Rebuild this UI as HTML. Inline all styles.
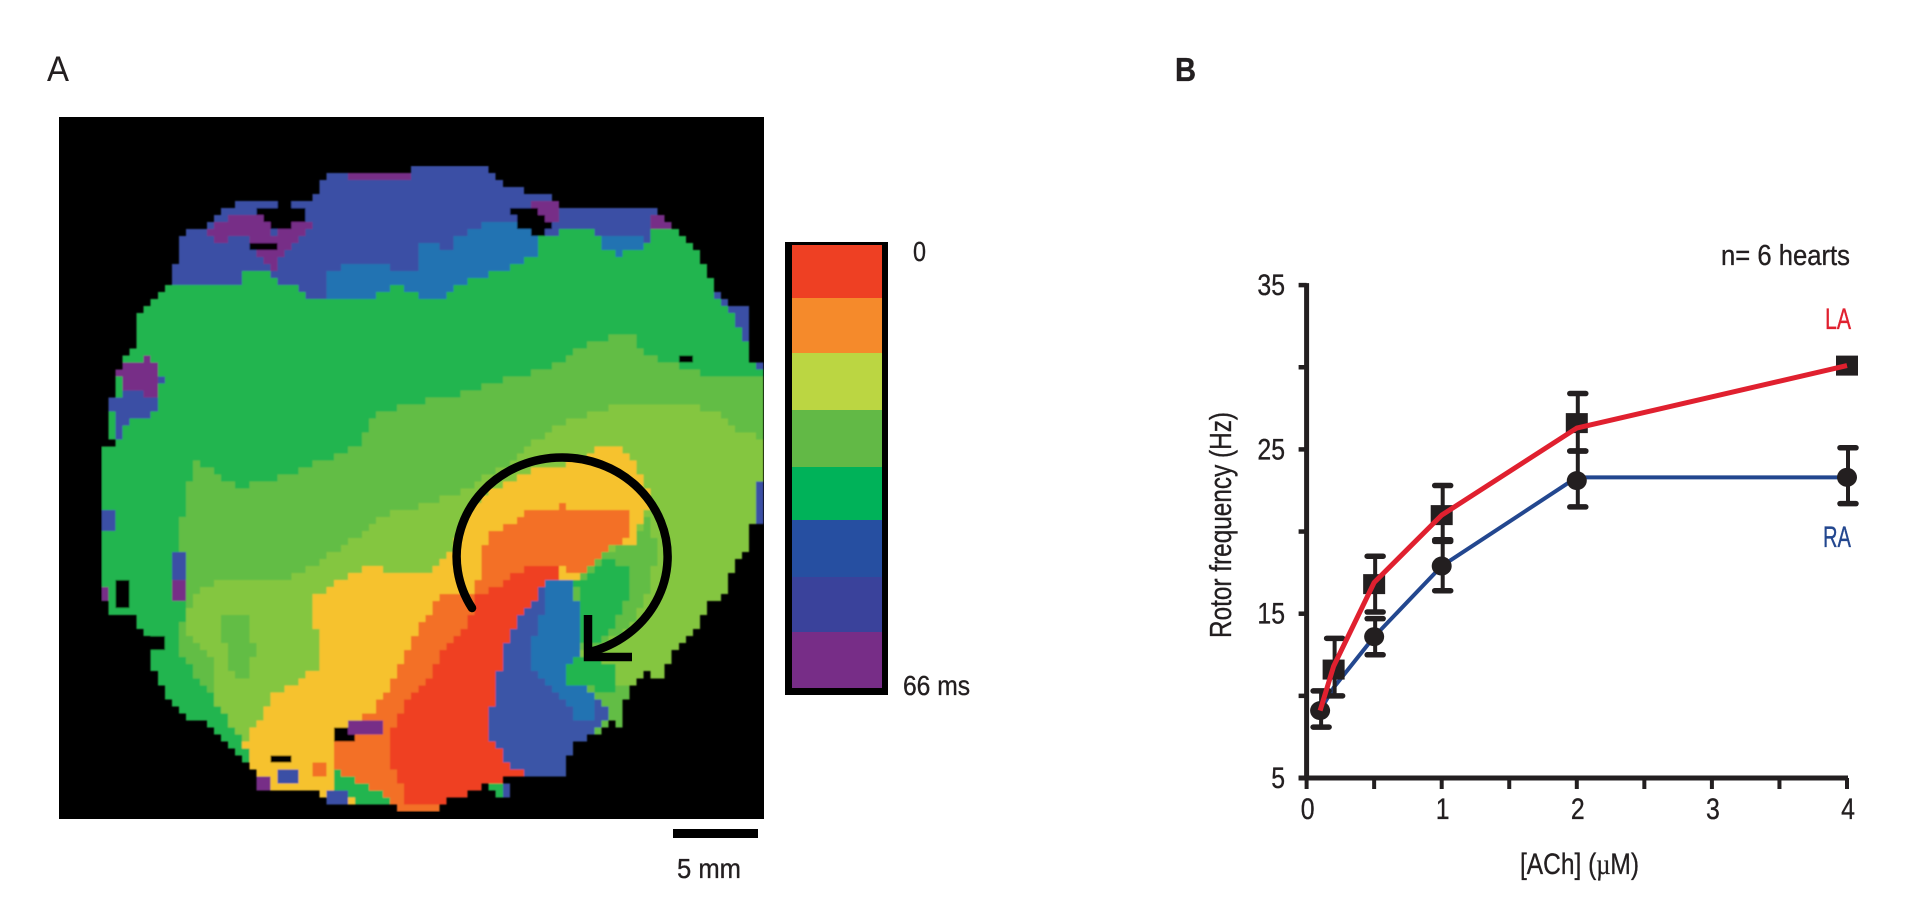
<!DOCTYPE html>
<html lang="en">
<head>
<meta charset="utf-8">
<title>Activation map and rotor frequency chart</title>
<style>
html,body{margin:0;padding:0;background:#fff;width:1929px;height:908px;overflow:hidden}
svg{display:block}
text{font-family:"Liberation Sans",sans-serif;fill:#231f20;stroke:#231f20;stroke-width:.35}
</style>
</head>
<body>
<svg id="fig" xmlns="http://www.w3.org/2000/svg" width="1929" height="908" viewBox="0 0 1929 908">
  <defs>
    <filter id="soft" x="0" y="0" width="100%" height="100%"><feGaussianBlur stdDeviation="0.8"/></filter>
    <clipPath id="map-clip"><rect x="59" y="117" width="705" height="702"/></clipPath>
  </defs>
  <rect x="0" y="0" width="1929" height="908" fill="#fff"/>
  <text x="47" y="81" font-size="35" textLength="22" lengthAdjust="spacingAndGlyphs" style="stroke-width:0">A</text>
  <text x="1175" y="81" font-size="33" font-weight="bold" textLength="21" lengthAdjust="spacingAndGlyphs">B</text>

  <g id="map" clip-path="url(#map-clip)">
    <rect x="59" y="117" width="705" height="702" fill="#000"/>
    <g id="map-cells" filter="url(#soft)"></g>
    <g id="rotor-arrow" fill="none" stroke="#000" stroke-width="8.5">
      <path stroke-linecap="round" d="M472 608A105.5 99 0 1 1 590 652"/>
      <path d="M588 615V657H632"/>
    </g>
  </g>

  <rect x="673" y="829" width="85" height="9" fill="#000"/>
  <text x="677" y="878" font-size="28" textLength="64" lengthAdjust="spacingAndGlyphs">5 mm</text>

  <g id="colorbar">
    <rect x="785" y="242" width="103" height="453" fill="#000"/>
    <rect x="792" y="245" width="90" height="53" fill="#ee4023"/>
    <rect x="792" y="298" width="90" height="55" fill="#f58a2b"/>
    <rect x="792" y="353" width="90" height="57" fill="#bbd642"/>
    <rect x="792" y="410" width="90" height="57" fill="#62b946"/>
    <rect x="792" y="467" width="90" height="53" fill="#00b259"/>
    <rect x="792" y="520" width="90" height="57" fill="#264fa1"/>
    <rect x="792" y="577" width="90" height="55" fill="#3a429b"/>
    <rect x="792" y="632" width="90" height="56" fill="#772d87"/>
    <text x="913" y="261" font-size="28" textLength="13" lengthAdjust="spacingAndGlyphs">0</text>
    <text x="903" y="695" font-size="28" textLength="67" lengthAdjust="spacingAndGlyphs">66 ms</text>
  </g>

  <g id="chart">
    <text x="1721" y="265" font-size="29" textLength="129" lengthAdjust="spacingAndGlyphs">n= 6 hearts</text>
    <text x="1825" y="329" font-size="30" textLength="26" lengthAdjust="spacingAndGlyphs" style="fill:#e0202f;stroke:#e0202f">LA</text>
    <text x="1823" y="547" font-size="30" textLength="28" lengthAdjust="spacingAndGlyphs" style="fill:#23478f;stroke:#23478f">RA</text>
    <text transform="translate(1231 638) rotate(-90)" x="0" y="0" font-size="31" textLength="226" lengthAdjust="spacingAndGlyphs">Rotor frequency (Hz)</text>
    <text x="1520" y="874" font-size="30" textLength="119" lengthAdjust="spacingAndGlyphs">[ACh] (<tspan style="font-family:'Liberation Serif',serif">µ</tspan>M)</text>
    <g id="axes"></g>
    <g id="marks"></g>
  </g>
</svg>

<script>
/* ---------- Chart data (panel B) ---------- */
const doses = [0.1, 0.2, 0.5, 1, 2, 4];
const laLine = [9.1, 11.8, 16.9, 21, 26.3, 30.1];
const laMarkers = [null, 11.6, 16.8, 21, 26.6, 30.1];
const laHigh = [null, 13.5, 18.5, 22.8, 28.4, null];
const laLow = [null, 10, 15.1, 19.5, 24.9, null];
const raLine = [9.1, 10.5, 13.6, 17.9, 23.3, 23.3];
const raMarkers = [9.1, null, 13.6, 17.9, 23.1, 23.3];
const raHigh = [10.3, null, 14.7, 19.4, 24.9, 25.1];
const raLow = [8.1, null, 12.5, 16.4, 21.5, 21.7];
const yTickLabels = [5, 15, 25, 35];
const yMinorTicks = [10, 20, 30];
const xTickLabels = [0, 1, 2, 3, 4];
const xMinorTicks = [0.5, 1.5, 2.5, 3.5];

/* ---------- Activation map regions, in map image units, painted in order ---------- */
const heartOutline = [[650,515],[810,515],[810,490],[930,490],[965,515],[990,560],[1040,575],[1095,595],[1100,620],[1255,620],[1300,640],[1320,680],[1350,730],[1380,790],[1400,860],[1430,910],[1475,910],[1475,1080],[1497,1080],[1497,1570],[1475,1575],[1475,1650],[1450,1660],[1430,1730],[1420,1790],[1395,1805],[1375,1860],[1350,1910],[1320,1960],[1298,2030],[1260,2020],[1240,2050],[1220,2120],[1220,2175],[1190,2170],[1160,2210],[1130,2235],[1105,2280],[1105,2330],[1030,2325],[985,2335],[1010,2395],[985,2395],[960,2355],[925,2370],[890,2400],[865,2410],[865,2430],[780,2430],[770,2410],[640,2410],[620,2370],[500,2365],[500,2320],[450,2250],[425,2210],[400,2170],[350,2140],[320,2070],[300,2010],[300,1940],[260,1850],[215,1840],[200,1790],[200,1350],[220,1340],[215,1210],[235,1090],[270,1040],[270,960],[290,910],[340,850],[345,770],[360,700],[405,680],[450,620],[490,595],[610,600],[640,520]];
const mapRegions = [
  ['blue', '#3b50a5', [[300,400],[300,850],[340,850],[470,845],[480,815],[530,820],[540,845],[570,850],[600,885],[640,905],[720,905],[780,850],[830,905],[860,905],[900,850],[1000,800],[1050,760],[1060,710],[1090,700],[1160,685],[1180,740],[1210,770],[1260,740],[1285,690],[1320,680],[1350,400]]],
  ['blue', '#3b50a5', [[1400,880],[1480,880],[1500,1140],[1460,1020],[1430,930]]],
  ['teal', '#2273b2', [[640,905],[640,830],[680,795],[750,790],[780,810],[820,810],[820,730],[880,745],[900,705],[960,670],[980,660],[1040,690],[1060,710],[1050,760],[1000,800],[900,850],[860,905],[830,905],[780,850],[720,905]]],
  ['teal', '#2273b2', [[1170,700],[1270,700],[1260,740],[1210,770],[1180,740]]],
  ['purple', '#772d87', [[405,690],[450,650],[510,640],[535,700],[600,640],[610,690],[580,720],[545,770],[540,830],[510,770],[480,700],[450,700],[430,740],[410,700]]],
  ['purple', '#772d87', [[680,505],[810,505],[810,530],[680,530]]],
  ['purple', '#772d87', [[1040,590],[1095,610],[1090,670],[1060,690]]],
  ['purple', '#772d87', [[1270,655],[1310,655],[1310,685],[1270,685]]],
  ['blue', '#3b50a5', [[225,1190],[320,1130],[300,1250],[250,1260],[235,1330],[215,1210]]],
  ['purple', '#772d87', [[225,1080],[270,1080],[300,1060],[315,1190],[240,1170]]],
  ['light-green', '#62bd45', [[1500,1140],[1400,1130],[1330,1100],[1260,1060],[1240,1000],[1160,1020],[1100,1090],[1020,1130],[960,1150],[880,1195],[800,1210],[740,1240],[700,1340],[640,1380],[600,1400],[560,1430],[510,1450],[460,1460],[420,1420],[375,1370],[370,1480],[355,1560],[350,1700],[360,1850],[350,1950],[370,2000],[420,2100],[430,2130],[480,2220],[500,2320],[1100,2300],[1300,2100],[1500,2000]]],
  ['lime', '#84c63f', [[1060,1310],[1120,1260],[1200,1220],[1300,1210],[1400,1230],[1450,1290],[1500,1320],[1500,2000],[1300,2100],[1100,2000],[700,1900],[560,2220],[480,2220],[420,2110],[420,1990],[370,1910],[370,1830],[380,1780],[450,1730],[540,1750],[600,1710],[680,1630],[760,1540],[820,1520],[900,1480],[1000,1390]]],
  ['light-green', '#62bd45', [[430,1850],[480,1830],[500,1950],[480,2050],[450,2000]]],
  ['yellow', '#f6c22d', [[620,1790],[680,1730],[730,1700],[780,1720],[820,1730],[870,1680],[890,1650],[900,1580],[950,1480],[1050,1410],[1160,1380],[1150,1360],[1170,1340],[1190,1330],[1220,1340],[1240,1380],[1270,1480],[1270,1530],[1240,1630],[1190,1640],[1150,1730],[1000,1800],[930,1800],[870,1780],[820,1880],[770,2030],[740,2120],[660,2200],[650,2250],[650,2350],[700,2410],[780,2420],[780,2430],[640,2410],[620,2370],[500,2365],[490,2360],[480,2220],[510,2150],[540,2080],[620,2010],[630,1940],[610,1830]]],
  ['orange', '#f37027', [[1040,1525],[1090,1525],[1105,1505],[1120,1525],[1225,1525],[1235,1580],[1225,1630],[1190,1640],[1150,1730],[1100,1700],[1030,1700],[960,1770],[930,1790],[955,1610],[1020,1550]]],
  ['orange', '#f37027', [[870,1780],[900,1780],[930,1790],[920,1870],[880,1930],[830,2050],[790,2120],[760,2220],[770,2310],[800,2410],[780,2430],[760,2390],[700,2350],[660,2310],[650,2250],[660,2200],[740,2120],[770,2030],[820,1880]]],
  ['red', '#ef4023', [[1030,1700],[1100,1700],[1100,1730],[1075,1740],[1000,1890],[970,2070],[955,2190],[990,2280],[1030,2320],[985,2335],[960,2355],[925,2370],[890,2400],[865,2410],[865,2430],[790,2430],[800,2390],[770,2310],[760,2220],[790,2120],[830,2050],[880,1930],[920,1870],[930,1790],[960,1770]]],
  ['blue', '#3b55a7', [[1075,1740],[1125,1740],[1145,1950],[1120,1975],[1105,2000],[1110,2075],[1150,2060],[1200,2140],[1160,2210],[1130,2235],[1105,2280],[1105,2330],[1030,2325],[990,2280],[955,2190],[970,2070],[1000,1890]]],
  ['teal', '#2273b2', [[1075,1740],[1125,1740],[1145,1950],[1105,2000],[1105,2070],[1130,2050],[1160,2070],[1170,2140],[1140,2170],[1090,2080],[1050,2030],[1040,1950],[1060,1850]]],
  ['light-green', '#62bd45', [[1125,1760],[1190,1650],[1240,1635],[1270,1540],[1290,1650],[1270,1770],[1230,1890],[1150,1960],[1110,1990],[1105,2070],[1130,2050],[1170,2070],[1220,2050],[1220,2175],[1195,2145],[1175,2090],[1150,2060],[1145,1950]]],
  ['green', '#22b550', [[1130,1750],[1190,1680],[1230,1710],[1230,1800],[1190,1910],[1145,1950],[1140,1840]]],
  ['green', '#22b550', [[1110,1990],[1150,1960],[1200,2000],[1215,2080],[1180,2080],[1150,2050],[1110,2060]]],
  ['purple', '#772d87', [[680,2160],[750,2160],[745,2200],[680,2205]]],
  ['purple', '#772d87', [[500,2335],[530,2335],[530,2370],[500,2370]]],
  ['blue', '#3b50a5', [[550,2300],[580,2300],[580,2345],[550,2345]]],
  ['orange', '#f37027', [[610,2280],[640,2290],[640,2340],[610,2340]]],
  ['blue', '#3b50a5', [[640,2365],[680,2365],[680,2415],[640,2415]]],
  ['blue', '#3b50a5', [[985,2345],[1012,2345],[1012,2400],[985,2400]]],
  ['orange', '#f37027', [[790,2410],[860,2410],[860,2432],[790,2432]]],
  ['blue', '#3b50a5', [[330,1650],[362,1650],[362,1745],[330,1745]]],
  ['purple', '#772d87', [[332,1745],[358,1745],[358,1800],[332,1800]]],
  ['blue', '#3b50a5', [[198,1520],[230,1520],[230,1585],[198,1585]]],
  ['purple', '#772d87', [[198,1755],[216,1755],[216,1795],[198,1795]]],
  ['blue', '#3b50a5', [[1478,1440],[1500,1440],[1500,1575],[1478,1575]]],
  ['black', '#000000', [[500,620],[610,620],[590,660],[545,700],[530,680]]],
  ['black', '#000000', [[545,590],[575,590],[575,622],[545,622]]],
  ['black', '#000000', [[490,720],[545,720],[545,752],[490,752]]],
  ['black', '#000000', [[1005,620],[1040,620],[1055,640],[1090,690],[1050,702],[1010,690]]],
  ['black', '#000000', [[1325,1060],[1358,1060],[1358,1084],[1325,1084]]],
  ['black', '#000000', [[655,2180],[680,2170],[680,2205],[700,2220],[655,2226]]],
  ['black', '#000000', [[535,2262],[566,2262],[566,2292],[535,2292]]],
  ['black', '#000000', [[222,1730],[250,1730],[250,1825],[222,1825]]],
  ['black', '#000000', [[298,1900],[322,1900],[322,1952],[298,1952]]]
];

const NS = 'http://www.w3.org/2000/svg';
const mapX = u => u / 1.96;
const mapY = v => v / 3;

function inside(pts, x, y) {
  let c = false;
  for (let i = 0, j = pts.length - 1; i < pts.length; j = i++) {
    const a = pts[i], b = pts[j];
    if ((a[1] > y) !== (b[1] > y) && x < (b[0] - a[0]) * (y - a[1]) / (b[1] - a[1]) + a[0]) c = !c;
  }
  return c;
}

/* Rasterise the regions to the blocky pixel grid of the optical map */
(function drawMap() {
  const host = document.getElementById('map-cells');
  const U0 = 116, V0 = 350, DU = 13.8, DV = 21.06, COLS = 101, ROWS = 100;
  const paths = {};
  for (let r = 0; r < ROWS; r++) {
    let runColor = null, runStart = 0;
    for (let c = 0; c <= COLS; c++) {
      let color = null;
      if (c < COLS) {
        const u = U0 + (c + 0.5) * DU, v = V0 + (r + 0.5) * DV;
        if (inside(heartOutline, u, v)) {
          color = '#22b550';
          for (const reg of mapRegions) {
            if (inside(reg[2], u, v)) color = reg[1];
          }
        }
      }
      if (color !== runColor) {
        if (runColor) {
          const x0 = mapX(U0 + runStart * DU), x1 = Math.min(764, mapX(U0 + c * DU));
          const y0 = mapY(V0 + r * DV), y1 = mapY(V0 + (r + 1) * DV);
          paths[runColor] = (paths[runColor] || '') + 'M' + x0.toFixed(1) + ' ' + y0.toFixed(1) + 'H' + x1.toFixed(1) + 'V' + y1.toFixed(1) + 'H' + x0.toFixed(1) + 'Z';
        }
        runColor = color;
        runStart = c;
      }
    }
  }
  Object.keys(paths).forEach(function (col, i) {
    const el = document.createElementNS(NS, 'path');
    el.setAttribute('d', paths[col]);
    el.setAttribute('fill', col);
    el.setAttribute('shape-rendering', 'crispEdges');
    
    
    host.appendChild(el);
  });
})();

/* ---------- Chart axis functions ---------- */
const xScale = v => 1306.6 + 135.1 * v;
const yScale = v => 778 - (v - 5) * 16.43;
const INK = '#231f20';

function line(parent, x1, y1, x2, y2, w, name) {
  const el = document.createElementNS(NS, 'line');
  el.setAttribute('x1', x1);
  el.setAttribute('y1', y1);
  el.setAttribute('x2', x2);
  el.setAttribute('y2', y2);
  el.setAttribute('stroke', INK);
  el.setAttribute('stroke-width', w);
  
  
  parent.appendChild(el);
  return el;
}

function label(parent, str, x, y, anchor, name) {
  const el = document.createElementNS(NS, 'text');
  el.textContent = String(str);
  el.setAttribute('x', x);
  el.setAttribute('y', y);
  el.setAttribute('text-anchor', anchor);
  el.setAttribute('font-size', '30');
  el.setAttribute('textLength', String(str).length * 13.8);
  el.setAttribute('lengthAdjust', 'spacingAndGlyphs');
  
  
  parent.appendChild(el);
  return el;
}

(function drawAxes() {
  const g = document.getElementById('axes');
  line(g, xScale(0), yScale(35) - 2, xScale(0), yScale(5) + 2, 5, 'y-axis-line');
  line(g, xScale(0) - 8, yScale(5), xScale(4) + 1, yScale(5), 5, 'x-axis-line');
  yTickLabels.forEach(function (v) {
    line(g, xScale(0) - 8, yScale(v), xScale(0), yScale(v), 4.5, 'y-tick');
    label(g, v, 1285, yScale(v) + 10, 'end', 'y-tick-label');
  });
  yMinorTicks.forEach(function (v) {
    line(g, xScale(0) - 8, yScale(v), xScale(0), yScale(v), 4.5, 'y-minor-tick');
  });
  xTickLabels.forEach(function (v) {
    line(g, xScale(v), yScale(5), xScale(v), yScale(5) + 11, 4, 'x-tick');
    label(g, v, xScale(v) + 1, 819, 'middle', 'x-tick-label');
  });
  xMinorTicks.forEach(function (v) {
    line(g, xScale(v), yScale(5), xScale(v), yScale(5) + 11, 4, 'x-minor-tick');
  });
})();

function errorBar(parent, dose, hi, lo, name) {
  if (hi === null || lo === null) return;
  const x = xScale(dose) + 1;
  line(parent, x, yScale(hi), x, yScale(lo), 4, name + '-stem');
  [hi, lo].forEach(function (v) {
    const cap = line(parent, x - 8, yScale(v), x + 8, yScale(v), 5.5, name + '-cap');
    cap.setAttribute('stroke-linecap', 'round');
  });
}

function seriesLine(parent, values, color, width, name) {
  const el = document.createElementNS(NS, 'polyline');
  el.setAttribute('points', values.map((v, i) => xScale(doses[i]) + ',' + yScale(v)).join(' '));
  el.setAttribute('fill', 'none');
  el.setAttribute('stroke', color);
  el.setAttribute('stroke-width', width);
  el.setAttribute('stroke-linejoin', 'round');
  
  
  parent.appendChild(el);
}

(function drawSeries() {
  const g = document.getElementById('marks');
  seriesLine(g, raLine, '#23478f', 4, 'ra-line');
  doses.forEach(function (d, i) {
    errorBar(g, d, raHigh[i], raLow[i], 'ra-error-bar');
    errorBar(g, d, laHigh[i], laLow[i], 'la-error-bar');
  });
  raMarkers.forEach(function (v, i) {
    if (v === null) return;
    const c = document.createElementNS(NS, 'ellipse');
    c.setAttribute('cx', xScale(doses[i]));
    c.setAttribute('cy', yScale(v));
    c.setAttribute('rx', 10);
    c.setAttribute('ry', 9.5);
    c.setAttribute('fill', INK);
    
    
    g.appendChild(c);
  });
  laMarkers.forEach(function (v, i) {
    if (v === null) return;
    const s = document.createElementNS(NS, 'rect');
    s.setAttribute('x', xScale(doses[i]) - 11);
    s.setAttribute('y', yScale(v) - 10);
    s.setAttribute('width', 22);
    s.setAttribute('height', 20);
    s.setAttribute('fill', INK);
    
    
    g.appendChild(s);
  });
  seriesLine(g, laLine, '#e0202f', 5, 'la-line');
})();
</script>
</body>
</html>
